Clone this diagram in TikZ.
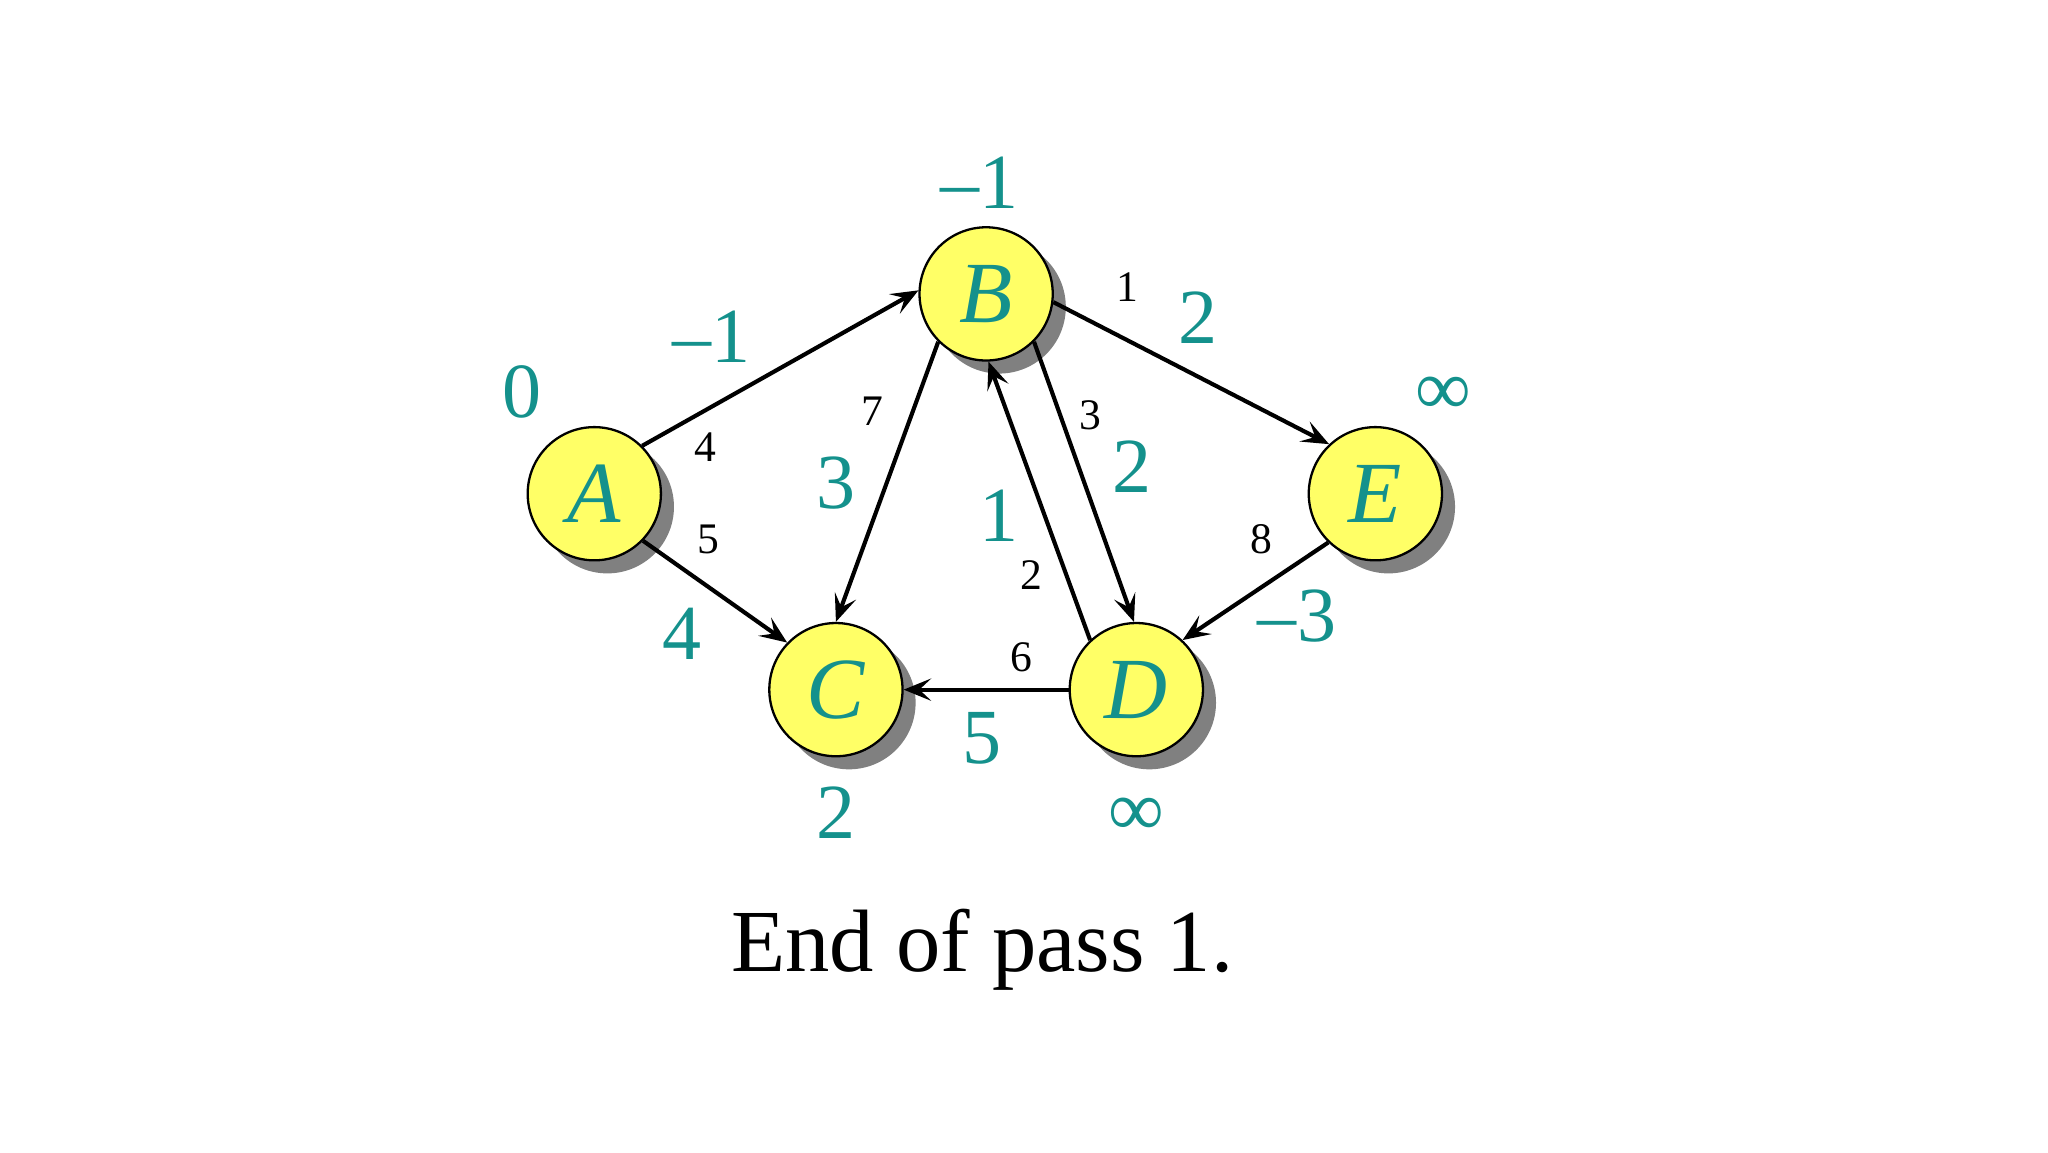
\documentclass[tikz,border=0pt]{standalone}
\usepackage{fontspec}
\setmainfont{Liberation Serif}
\usetikzlibrary{arrows.meta,shadows}
\definecolor{distcol}{RGB}{20,145,140}
\definecolor{vertfill}{RGB}{255,255,102}
\tikzset{
  vertex/.style={circle, draw=black, line width=0.5pt, fill=vertfill, minimum size=1.02cm,
    inner sep=0pt, text=distcol, font=\fontsize{19}{19}\selectfont\itshape,
    drop shadow={shadow xshift=0.1cm, shadow yshift=-0.1cm, fill=black!50, opacity=1}},
  dist/.style={text=distcol, inner sep=0pt, font=\fontsize{17}{17}\selectfont},
  weight/.style={inner sep=0pt, font=\fontsize{9.5}{9.5}\selectfont},
}
\begin{document}
\begin{tikzpicture}[>={Stealth[length=2.1mm,width=1.7mm,inset=0.9mm]},->,line width=0.9pt]
  \useasboundingbox (0,-0.09) rectangle (15.68,8.73);
  % vertices
  \node[vertex] (A) at (4.55,4.95) {A};
  \node[vertex] (B) at (7.55,6.48) {B};
  \node[vertex] (C) at (6.40,3.45) {C};
  \node[vertex] (D) at (8.70,3.45) {D};
  \node[vertex] (E) at (10.53,4.95) {E};
  % distances after the pass
  \node[dist] (dA) at (4.00,5.73) {0};
  \node[dist] (dB) at (7.50,7.33) {–1};
  \node[dist] (dC) at (6.40,2.51) {2};
  \node[dist] (dD) at (8.70,2.48) {∞};
  \node[dist] (dE) at (11.05,5.70) {∞};
  % edges
  \draw (A.45) -- (B.177);
  \draw (A.-44) -- (C.136);
  \draw (B.-135) -- (C.90);
  \draw (B.-45) -- (D.92);
  \draw (D.133) -- (B.-88);
  \draw (B.-7) -- (E.133);
  \draw (E.-134) -- (D.47);
  \draw (D.180) -- (C.0);
  % edge weights
  \node[weight] (wAB) at (5.40,5.31) {4};
  \node[weight] (wAC) at (5.42,4.60) {5};
  \node[weight] (wBC) at (6.68,5.58) {7};
  \node[weight] (wBE) at (8.63,6.53) {1};
  \node[weight] (wBD) at (8.35,5.55) {3};
  \node[weight] (wDB) at (7.90,4.33) {2};
  \node[weight] (wED) at (9.66,4.60) {8};
  \node[weight] (wDC) at (7.82,3.70) {6};
  % relaxed values on the edges
  \node[dist] (rAB) at (5.45,6.15) {–1};
  \node[dist] (rAC) at (5.22,3.88) {4};
  \node[dist] (rBC) at (6.40,5.03) {3};
  \node[dist] (rDB) at (7.65,4.78) {1};
  \node[dist] (rBD) at (8.67,5.16) {2};
  \node[dist] (rBE) at (9.17,6.30) {2};
  \node[dist] (rED) at (9.93,4.01) {–3};
  \node[dist] (rDC) at (7.52,3.08) {5};
  % caption
  \node[anchor=base, inner sep=0pt, font=\fontsize{19.3}{20}\selectfont] (cap) at (7.52,1.29) {End of pass 1.};
\end{tikzpicture}
\end{document}
